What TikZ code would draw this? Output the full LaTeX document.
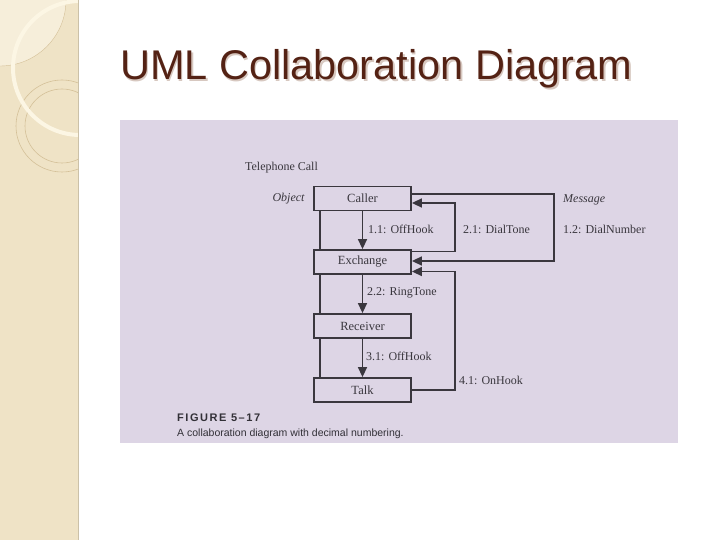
\documentclass[tikz,border=0pt]{standalone}
\usepackage{fontspec}
\setmainfont{Liberation Serif}
\newfontfamily\arialf{Liberation Sans}
\usetikzlibrary{arrows.meta,calc}
\definecolor{stripc}{RGB}{239,227,198}
\definecolor{stripl}{RGB}{246,238,218}
\definecolor{creamc}{RGB}{252,246,228}
\definecolor{ringc}{RGB}{212,192,152}
\definecolor{panelc}{RGB}{221,213,229}
\definecolor{titlec}{RGB}{84,34,20}
\definecolor{shadc}{RGB}{215,200,192}
\definecolor{inkc}{RGB}{58,55,62}
\definecolor{capc}{RGB}{50,48,55}
\tikzset{
  objbox/.style={draw=inkc, line width=1.8pt, minimum width=97pt, minimum height=24pt, inner sep=0pt, text=inkc, font=\fontsize{12.5}{14}\selectfont},
  link/.style={draw=inkc, line width=1.5pt},
  msg/.style={draw=inkc, line width=1.5pt, -{Triangle[length=10pt,width=9pt]}},
  lbl/.style={text=inkc, font=\fontsize{12}{14}\selectfont, inner sep=0pt, anchor=west},
  ilbl/.style={text=inkc, font=\fontsize{12}{14}\selectfont\itshape, inner sep=0pt},
}
\begin{document}
\begin{tikzpicture}[x=1pt,y=-1pt]
\useasboundingbox (0,0) rectangle (720,540);
\fill[white] (0,0) rectangle (720,540);
% left decorative strip
\begin{scope}
\clip (0,0) rectangle (78,540);
\fill[stripc] (0,0) rectangle (78,540);
\fill[stripl, draw=ringc, line width=0.4pt] (0,0) circle[radius=66];
\draw[ringc, line width=0.6pt] (62,126) circle[radius=46];
\draw[ringc, line width=0.6pt] (62,126) circle[radius=37];
\draw[creamc, line width=4pt] (80,68) circle[radius=67];
\end{scope}
\draw[stripc!85!black, line width=0.4pt] (78,0) -- (78,540);
% title
\node[anchor=base west, inner sep=0pt, text=shadc, font=\arialf\fontsize{41.5}{48}\selectfont] (titleshadow) at (121.5,81.5) {UML Collaboration Diagram};
\node[anchor=base west, inner sep=0pt, text=titlec, font=\arialf\fontsize{41.5}{48}\selectfont] (title) at (120,80) {UML Collaboration Diagram};
% scanned figure panel
\fill[panelc] (120,120) rectangle (678,443);
\node[ilbl, font=\fontsize{12}{14}\selectfont, anchor=center] (tcall) at (281.5,168) {Telephone Call};
\node[ilbl, anchor=center] (objl) at (288.5,199) {Object};
\node[ilbl, anchor=west] (msgl) at (563,200) {Message};
% objects
\node[objbox] (caller) at (362.5,198.5) {Caller};
\node[objbox] (exch) at (362.5,262) {Exchange};
\node[objbox] (recv) at (362.5,326) {Receiver};
\node[objbox] (talk) at (362.5,390) {Talk};
% links on the left
\draw[link] ($(caller.south west)+(7,0)$) -- ($(exch.north west)+(7,0)$);
\draw[link] ($(exch.south west)+(7,0)$) -- ($(recv.north west)+(7,0)$);
\draw[link] ($(recv.south west)+(7,0)$) -- ($(talk.north west)+(7,0)$);
% downward messages
\draw[msg] (caller) -- (exch);
\draw[msg] (exch) -- (recv);
\draw[msg] (recv) -- (talk);
% 1.2 DialNumber
\coordinate (dn1) at (554,194);
\coordinate (dn2) at (554,261);
\draw[msg] (caller.east |- dn1) -- (dn1) -- (dn2) -- (exch.east |- dn2);
% 2.1 DialTone
\coordinate (dt1) at (455,251.5);
\coordinate (dt2) at (455,203);
\draw[msg] (exch.east |- dt1) -- (dt1) -- (dt2) -- (caller.east |- dt2);
% 4.1 OnHook
\coordinate (oh1) at (455,390);
\coordinate (oh2) at (455,271.5);
\draw[msg] (talk.east |- oh1) -- (oh1) -- (oh2) -- (exch.east |- oh2);
% labels
\node[lbl] (l11) at (368,229) {1.1: OffHook};
\node[lbl] (l21) at (463,229) {2.1: DialTone};
\node[lbl] (l12) at (563,229) {1.2: DialNumber};
\node[lbl] (l22) at (367,293) {2.2: RingTone};
\node[lbl] (l31) at (366,356) {3.1: OffHook};
\node[lbl] (l41) at (459,380) {4.1: OnHook};
% caption
\node[anchor=west, inner sep=0pt, text=capc, font=\arialf\bfseries\fontsize{11}{13}\selectfont\addfontfeature{LetterSpace=14}] (fig) at (177,418) {FIGURE 5\textendash 17};
\node[anchor=west, inner sep=0pt, text=capc, font=\arialf\fontsize{10.5}{13}\selectfont] (cap) at (177,434) {A collaboration diagram with decimal numbering.};
\end{tikzpicture}
\end{document}
